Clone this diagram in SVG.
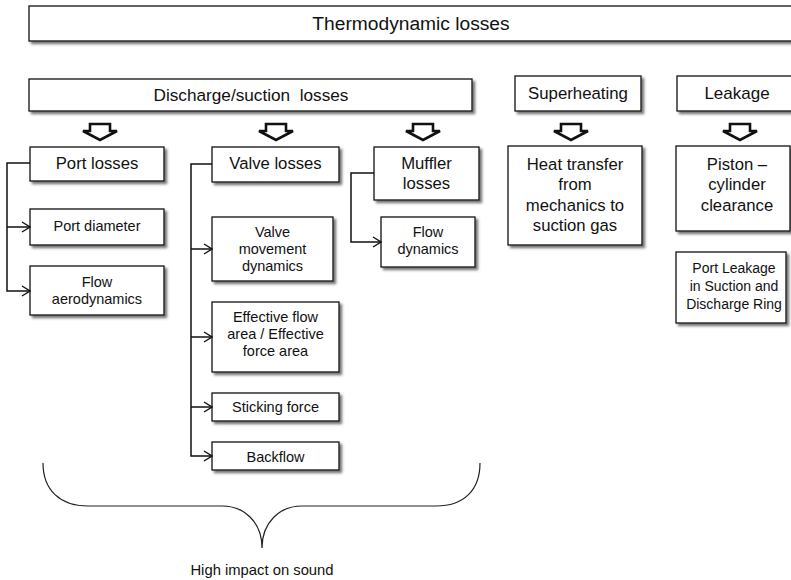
<svg xmlns="http://www.w3.org/2000/svg" width="791" height="580" viewBox="0 0 791 580">
<style>
.box{fill:#fff;stroke:#111;stroke-width:1.3;filter:url(#sh)}
text{font-family:"Liberation Sans",Arial,sans-serif;fill:#111;text-anchor:middle}
.big{font-size:16.7px}
.sm{font-size:14.5px}
.con{fill:none;stroke:#111;stroke-width:1.5}
.blk{fill:#fff;stroke:#111;stroke-width:2.6;stroke-linejoin:miter}
.brace{fill:none;stroke:#222;stroke-width:1.2}
</style>
<defs>
<filter id="sh" x="-10%" y="-10%" width="130%" height="140%">
<feDropShadow dx="2.5" dy="2.5" stdDeviation="0.8" flood-color="#555" flood-opacity="0.8"/>
</filter>
<marker id="chev" viewBox="0 0 10 12" refX="9" refY="6" markerWidth="10" markerHeight="12" markerUnits="userSpaceOnUse" orient="auto">
<path d="M1,1 L9,6 L1,11" fill="none" stroke="#111" stroke-width="1.4"/>
</marker>
<path id="barrow" class="blk" d="M-10,124 H10 V131 H17 L0,140 L-17,131 H-10 Z"/>
</defs>

<g id="thermodynamic-losses">
<rect class="box" x="29" y="6" width="790" height="35"/>
<text x="411" y="30" style="font-size:19.2px">Thermodynamic losses</text>
</g>
<g id="discharge-suction-losses">
<rect class="box" x="29" y="79" width="443" height="32"/>
<text x="251" y="101" style="font-size:17.2px" xml:space="preserve">Discharge/suction  losses</text>
</g>
<g id="superheating">
<rect class="box" x="515" y="76" width="126" height="35"/>
<text x="578" y="99" style="font-size:16.8px">Superheating</text>
</g>
<g id="leakage">
<rect class="box" x="677" y="76" width="140" height="35"/>
<text x="737" y="99" style="font-size:17px">Leakage</text>
</g>

<g id="block-arrows">
<use href="#barrow" x="100"/>
<use href="#barrow" x="276"/>
<use href="#barrow" x="423"/>
<use href="#barrow" x="571"/>
<use href="#barrow" x="740"/>
</g>

<g id="port-losses">
<rect class="box" x="30" y="147" width="134" height="34"/>
<text class="big" x="97" y="169">Port losses</text>
</g>
<g id="port-diameter">
<rect class="box" x="30" y="209" width="134" height="36"/>
<text class="sm" x="97" y="231">Port diameter</text>
</g>
<g id="flow-aerodynamics">
<rect class="box" x="30" y="266" width="134" height="49"/>
<text class="sm" x="97" y="287">Flow</text>
<text class="sm" x="97" y="304">aerodynamics</text>
</g>

<g id="valve-losses">
<rect class="box" x="212" y="147" width="127" height="35"/>
<text class="big" x="275.5" y="169">Valve losses</text>
</g>
<g id="valve-movement-dynamics">
<rect class="box" x="212" y="217" width="121" height="64"/>
<text class="sm" x="272.5" y="237">Valve</text>
<text class="sm" x="272.5" y="254">movement</text>
<text class="sm" x="272.5" y="271">dynamics</text>
</g>
<g id="effective-flow-area">
<rect class="box" x="212" y="302" width="127" height="70"/>
<text class="sm" x="275.5" y="322">Effective flow</text>
<text class="sm" x="275.5" y="339">area / Effective</text>
<text class="sm" x="275.5" y="356">force area</text>
</g>
<g id="sticking-force">
<rect class="box" x="212" y="393" width="127" height="28"/>
<text class="sm" x="275.5" y="412">Sticking force</text>
</g>
<g id="backflow">
<rect class="box" x="212" y="442" width="127" height="28"/>
<text class="sm" x="275.5" y="462">Backflow</text>
</g>

<g id="muffler-losses">
<rect class="box" x="374" y="147" width="105" height="53"/>
<text class="big" x="426.5" y="169">Muffler</text>
<text class="big" x="426.5" y="189">losses</text>
</g>
<g id="flow-dynamics">
<rect class="box" x="381" y="217" width="94" height="50"/>
<text class="sm" x="428" y="237">Flow</text>
<text class="sm" x="428" y="254">dynamics</text>
</g>

<g id="heat-transfer">
<rect class="box" x="508" y="146" width="134" height="99"/>
<text class="big" x="575" y="170">Heat transfer</text>
<text class="big" x="575" y="190">from</text>
<text class="big" x="575" y="211">mechanics to</text>
<text class="big" x="575" y="231">suction gas</text>
</g>

<g id="piston-cylinder-clearance">
<rect class="box" x="676" y="146" width="114" height="85"/>
<text class="big" x="737" y="170">Piston –</text>
<text class="big" x="737" y="190">cylinder</text>
<text class="big" x="737" y="211">clearance</text>
</g>
<g id="port-leakage">
<rect class="box" x="676" y="252" width="110" height="71"/>
<text x="734" y="273" style="font-size:14px">Port Leakage</text>
<text x="734" y="291" style="font-size:14px">in Suction and</text>
<text x="734" y="309" style="font-size:14px">Discharge Ring</text>
</g>

<g id="connectors">
<path class="con" d="M30,163 H7 V291 H30" marker-end="url(#chev)"/>
<path class="con" d="M7,227 H30" marker-end="url(#chev)"/>
<path class="con" d="M212,164 H191 V456 H212" marker-end="url(#chev)"/>
<path class="con" d="M191,249 H212" marker-end="url(#chev)"/>
<path class="con" d="M191,337 H212" marker-end="url(#chev)"/>
<path class="con" d="M191,407 H212" marker-end="url(#chev)"/>
<path class="con" d="M374,173 H351 V242 H381" marker-end="url(#chev)"/>
</g>

<g id="brace">
<path class="brace" d="M43,463 C43,490 60,506 88,506 L222,506 C244,506 262,522 262,548 C262,522 280,506 302,506 L436,506 C464,506 480,490 480,463"/>
</g>
<g id="high-impact-label">
<text x="262" y="575" style="font-size:14.8px">High impact on sound</text>
</g>
</svg>
